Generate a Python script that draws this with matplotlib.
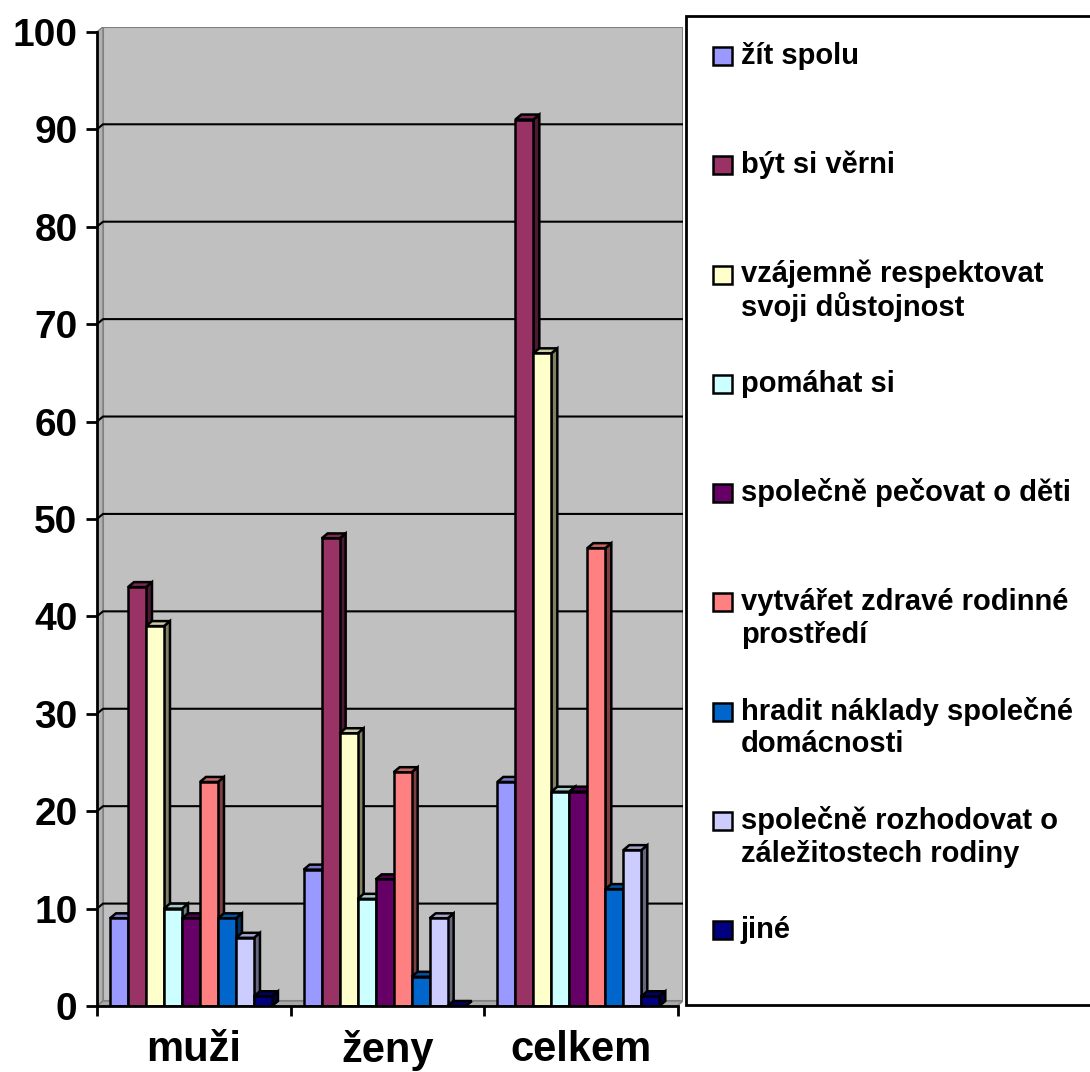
import numpy as np
import matplotlib.pyplot as plt
from matplotlib.patches import Polygon, Rectangle
from matplotlib.colors import to_rgb

plt.rcParams['font.family'] = ['Liberation Sans', 'DejaVu Sans']
plt.rcParams['font.weight'] = 'bold'

categories = ['muži', 'ženy', 'celkem']
series = ['žít spolu', 'být si věrni', 'vzájemně respektovat\nsvoji důstojnost',
          'pomáhat si', 'společně pečovat o děti', 'vytvářet zdravé rodinné\nprostředí',
          'hradit náklady společné\ndomácnosti', 'společně rozhodovat o\nzáležitostech rodiny',
          'jiné']
muzi = [9, 43, 39, 10, 9, 23, 9, 7, 1]
zeny = [14, 48, 28, 11, 13, 24, 3, 9, 0]
celkem = [23, 91, 67, 22, 22, 47, 12, 16, 1]
yticks = list(range(0, 101, 10))

colors = ['#9999FF', '#993366', '#FFFFCC', '#CCFFFF', '#660066',
          '#FF8080', '#0066CC', '#CCCCFF', '#000080']

W, H = 1090, 1072
fig = plt.figure(figsize=(W / 100, H / 100), dpi=100)
ax = fig.add_axes([97 / W, 66 / H, (683 - 97) / W, (1006 - 27) / H])

xmax = 3 + 5 / 193.7
ymax = 100.5
dx = 6 / 193.7      # depth offset (x, data units)
dy = 5 / 9.74       # depth offset (y, data units)
bw = 18 / 193.7     # bar width
off = 13 / 193.7    # gap before first bar in a group


def shade(c, f):
    r, g, b = to_rgb(c)
    return (r * f, g * f, b * f)


def bar3d(x, h, color, z):
    kw = dict(ec='black', lw=1.8, joinstyle='miter', zorder=z)
    ax.add_patch(Polygon([(x + bw, 0), (x + bw + dx, dy), (x + bw + dx, h + dy), (x + bw, h)],
                         fc=shade(color, 0.5), **kw))
    ax.add_patch(Polygon([(x, h), (x + dx, h + dy), (x + bw + dx, h + dy), (x + bw, h)],
                         fc=shade(color, 0.8), **kw))
    ax.add_patch(Rectangle((x, 0), bw, h, fc=color, **kw))


# walls and floor
ax.add_patch(Rectangle((dx, dy), xmax - dx, 100, fc='#C0C0C0', ec='#808080', lw=1.5, zorder=0))
ax.add_patch(Polygon([(0, 0), (dx, dy), (dx, 100 + dy), (0, 100)], fc='#B0B0B0',
                     ec='#808080', lw=1, zorder=0))
ax.add_patch(Polygon([(0, 0), (dx, dy), (xmax, dy), (xmax - dx, 0)], fc='#A8A8A8',
                     ec='#808080', lw=1, zorder=0))
for v in yticks[1:-1]:
    ax.plot([0, dx, xmax], [v, v + dy, v + dy], color='black', lw=1.5, zorder=1)

z = 2
for i, vals in enumerate([muzi, zeny, celkem]):
    for k, v in enumerate(vals):
        bar3d(i + off + k * bw, v, colors[k], z)
        z += 1

ax.set_xlim(0, xmax)
ax.set_ylim(0, ymax)
for s in ['top', 'right']:
    ax.spines[s].set_visible(False)
ax.spines['left'].set_bounds(0, 100)
ax.spines['bottom'].set_bounds(0, 3)
for s in ['left', 'bottom']:
    ax.spines[s].set_linewidth(2)
    ax.spines[s].set_zorder(50)

ax.set_yticks(yticks)
ax.set_yticklabels([str(t) for t in yticks], fontsize=28, fontweight='bold')
ax.tick_params(axis='y', length=8, width=2, pad=6)
ax.set_xticks([0, 1, 2, 3])
ax.set_xticklabels([])
ax.tick_params(axis='x', which='major', length=7, width=2)
ax.set_xticks([0.5, 1.5, 2.5], minor=True)
ax.set_xticklabels(categories, minor=True, fontsize=30, fontweight='bold')
ax.tick_params(axis='x', which='minor', length=0, pad=17)

# legend
fig.patches.append(Rectangle((686 / W, (H - 1005) / H), 420 / W, (1005 - 16) / H,
                             transform=fig.transFigure, fc='white', ec='black', lw=2,
                             figure=fig))
for k, name in enumerate(series):
    yc = 56 + 109.25 * k
    fig.patches.append(Rectangle((713 / W, (H - yc - 9) / H), 19 / W, 18 / H,
                                 transform=fig.transFigure, fc=colors[k], ec='black',
                                 lw=1.8, figure=fig))
    for j, line in enumerate(name.split('\n')):
        fig.text(741 / W, (H - yc - 8 - 33 * j) / H, line, fontsize=21, fontweight='bold',
                 va='baseline', ha='left')

fig.savefig('out.png', dpi=100)
